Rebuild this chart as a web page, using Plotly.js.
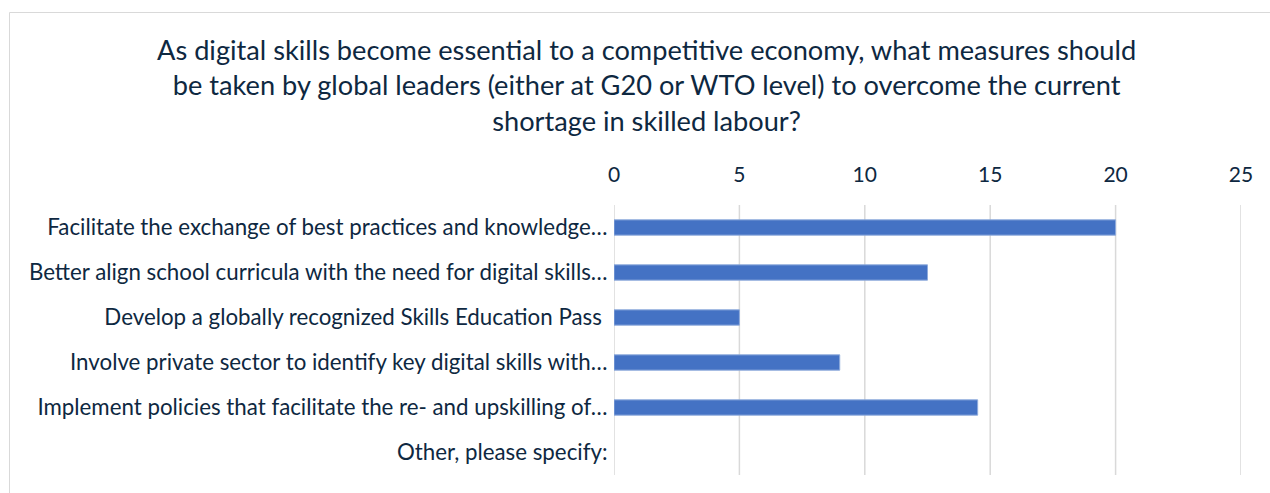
<!DOCTYPE html>
<html>
<head>
<meta charset="utf-8">
<script src="https://cdn.plot.ly/plotly-3.0.1.min.js"></script>
<style>html,body{margin:0;padding:0;background:#fff;}#chart{width:1270px;height:493px;}</style>
</head>
<body>
<div id="chart"></div>
<script>
const categories = [
  "Facilitate the exchange of best practices and knowledge…",
  "Better align school curricula with the need for digital skills…",
  "Develop a globally recognized Skills Education Pass ",
  "Involve private sector to identify key digital skills with…",
  "Implement policies that facilitate the re- and upskilling of…",
  "Other, please specify:"
];
const values = [20, 12.5, 5, 9, 14.5, 0];
const tickValues = [0, 5, 10, 15, 20, 25];
const titleText = "As digital skills become essential to a competitive economy, what measures should<br>be taken by global leaders (either at G20 or WTO level) to overcome the current<br>shortage in skilled labour?";

const W = 1270, H = 493;
const L = 614, R = 1241, T = 205, B = 475;
const pw = R - L, ph = B - T;
const px = v => (v - L) / pw;
const py = v => (B - v) / ph;
const textColor = "#0e2841";
const font = "Lato, 'Open Sans', sans-serif";

const trace = {
  type: "bar",
  orientation: "h",
  x: values,
  y: categories,
  width: 0.34,
  marker: { color: "#4472c4", line: { color: "#8fabdc", width: values.map(v => v > 0 ? 1 : 0) } },
  hoverinfo: "x+y"
};

const gridShapes = tickValues.map(v => ({
  type: "line", xref: "x", yref: "paper",
  x0: v, x1: v, y0: 0, y1: 1,
  line: { color: "#d9d9d9", width: 1.5 },
  layer: "below"
}));

const layout = {
  width: W, height: H,
  margin: { l: L, r: W - R, t: T, b: H - B, pad: 0 },
  paper_bgcolor: "#fff",
  plot_bgcolor: "rgba(0,0,0,0)",
  showlegend: false,
  font: { family: font, color: textColor, size: 16 },
  xaxis: {
    side: "top",
    range: [0, 25],
    tickvals: tickValues,
    ticktext: tickValues.map(String),
    showgrid: false,
    zeroline: false,
    showline: false,
    ticks: "outside",
    ticklen: 14,
    tickcolor: "rgba(0,0,0,0)",
    tickfont: { size: 21, color: textColor, family: font },
    fixedrange: true
  },
  yaxis: {
    type: "category",
    autorange: "reversed",
    showgrid: false,
    zeroline: false,
    showline: false,
    ticks: "outside",
    ticklen: 1,
    tickcolor: "rgba(0,0,0,0)",
    tickfont: { size: 22.3, color: textColor, family: font },
    fixedrange: true
  },
  annotations: [{
    text: titleText,
    xref: "paper", yref: "paper",
    x: px(646.5), y: py(85),
    xanchor: "center", yanchor: "middle",
    align: "center",
    showarrow: false,
    font: { size: 27.2, color: textColor, family: font }
  }],
  shapes: [{
    type: "rect", xref: "paper", yref: "paper",
    x0: px(9.5), x1: px(1300), y0: py(12.5), y1: py(520),
    line: { color: "#d9d9d9", width: 1 },
    fillcolor: "rgba(0,0,0,0)",
    layer: "below"
  }].concat(gridShapes)
};

Plotly.newPlot("chart", [trace], layout, { displayModeBar: false, staticPlot: true });
</script>
</body>
</html>
